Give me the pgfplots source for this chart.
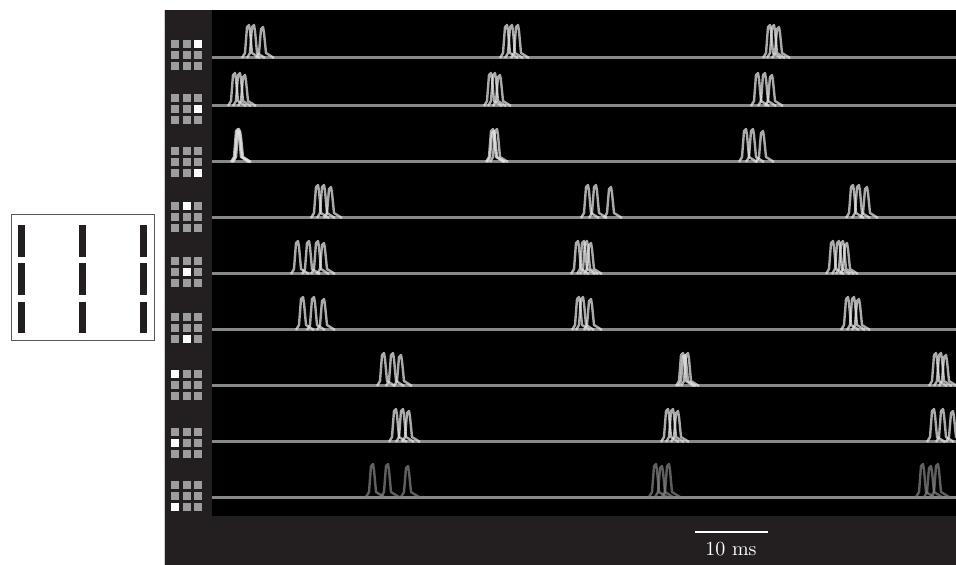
\documentclass[border=0pt]{standalone}
\usepackage{pgfplots}
\pgfplotsset{compat=1.18}
\definecolor{panel}{HTML}{231F20}
\definecolor{icongray}{HTML}{9D9D9D}
\definecolor{basegray}{HTML}{888888}
\definecolor{spkgray}{HTML}{E4E4E4}
\pgfplotsset{
  row/.style={y filter/.expression={#1-y}},
  spk/.style={color=spkgray, opacity=0.75, line width=1.2pt, line join=round, mark=none, unbounded coords=jump},
  dimspk/.style={color=gray, opacity=0.75, line width=1.2pt, line join=round, mark=none, unbounded coords=jump},
}
\begin{document}
\begin{tikzpicture}
\begin{axis}[
  width=478pt, height=282.5pt, scale only axis,
  xmin=0, xmax=956, ymin=0, ymax=565, y dir=reverse,
  hide axis, clip=true,
]
% backgrounds
\fill[white] (axis cs:0,0) rectangle (axis cs:956,565);
\fill[panel] (axis cs:164,10) rectangle (axis cs:956,565);
\draw[gray!40, line width=0.6pt] (axis cs:164.5,10) -- (axis cs:164.5,565);
\fill[black] (axis cs:212,10) rectangle (axis cs:956,516);

% stimulus box
\addplot[gray!70!black, line width=0.5pt, mark=none] coordinates {(11,215) (154,215) (154,341) (11,341) (11,215)};
\addplot[panel, line width=3.5pt, mark=none, unbounded coords=jump, line cap=butt] coordinates {
 (21.5,225) (21.5,257) (21.5,nan) (82.5,225) (82.5,257) (82.5,nan) (143.5,225) (143.5,257) (143.5,nan)
 (21.5,263) (21.5,295) (21.5,nan) (82.5,263) (82.5,295) (82.5,nan) (143.5,263) (143.5,295) (143.5,nan)
 (21.5,302) (21.5,333) (21.5,nan) (82.5,302) (82.5,333) (82.5,nan) (143.5,302) (143.5,333)};

% icons (3x3 grids)
\addplot[only marks, mark=square*, mark size=1.7pt, icongray] coordinates {
 (175,44)(187,44)(198,44)(175,55)(187,55)(198,55)(175,66)(187,66)(198,66)
 (175,98)(187,98)(198,98)(175,109)(187,109)(198,109)(175,120)(187,120)(198,120)
 (175,151)(187,151)(198,151)(175,162)(187,162)(198,162)(175,173)(187,173)(198,173)
 (175,206)(187,206)(198,206)(175,217)(187,217)(198,217)(175,228)(187,228)(198,228)
 (175,261)(187,261)(198,261)(175,272)(187,272)(198,272)(175,283)(187,283)(198,283)
 (175,317)(187,317)(198,317)(175,328)(187,328)(198,328)(175,339)(187,339)(198,339)
 (175,374)(187,374)(198,374)(175,385)(187,385)(198,385)(175,396)(187,396)(198,396)
 (175,432)(187,432)(198,432)(175,443)(187,443)(198,443)(175,454)(187,454)(198,454)
 (175,485)(187,485)(198,485)(175,496)(187,496)(198,496)(175,507)(187,507)(198,507)};
\addplot[only marks, mark=square*, mark size=1.7pt, white] coordinates {
 (198,44) (198,109) (198,173) (187,206) (187,272) (187,339) (175,374) (175,443) (175,507)};

% baselines
\addplot[basegray, line width=1.5pt, mark=none, unbounded coords=jump] coordinates {
 (212,58)(956,58)(956,nan) (212,106)(956,106)(956,nan) (212,162)(956,162)(956,nan)
 (212,218)(956,218)(956,nan) (212,274)(956,274)(956,nan) (212,330)(956,330)(956,nan)
 (212,386)(956,386)(956,nan) (212,442)(956,442)(956,nan) (212,497)(956,497)};

% row 1
\addplot[spk,row=58] coordinates {(242,0)(245,5)(247,31)(249,33)(250,27)(252,5)(260,0)(260,nan)(500,0)(503,5)(505,31)(507,33)(508,27)(510,5)(518,0)(518,nan)(763,0)(766,5)(768,31)(770,33)(771,27)(773,5)(781,0)};
\addplot[spk,row=58] coordinates {(247,0)(250,5)(252,31)(254,33)(255,27)(257,5)(265,0)(265,nan)(505,0)(508,5)(510,31)(512,33)(513,27)(515,5)(523,0)(523,nan)(767,0)(770,5)(772,31)(774,33)(775,27)(777,5)(785,0)};
\addplot[spk,row=58] coordinates {(256,0)(259,5)(261,29)(263,31)(264,25)(266,5)(274,0)(274,nan)(511,0)(514,5)(516,31)(518,33)(519,27)(521,5)(529,0)(529,nan)(772,0)(775,5)(777,29)(779,31)(780,25)(782,5)(790,0)};
% row 2
\addplot[spk,row=106] coordinates {(228,0)(231,5)(233,31)(235,33)(236,27)(238,5)(246,0)(246,nan)(484,0)(487,5)(489,31)(491,33)(492,27)(494,5)(502,0)(502,nan)(751,0)(754,5)(756,31)(758,33)(759,27)(761,5)(769,0)};
\addplot[spk,row=106] coordinates {(233,0)(236,5)(238,31)(240,33)(241,27)(243,5)(251,0)(251,nan)(488,0)(491,5)(493,31)(495,33)(496,27)(498,5)(506,0)(506,nan)(758,0)(761,5)(763,31)(765,33)(766,27)(768,5)(776,0)};
\addplot[spk,row=106] coordinates {(238,0)(241,5)(243,29)(245,31)(246,25)(248,5)(256,0)(256,nan)(493,0)(496,5)(498,29)(500,31)(501,25)(503,5)(511,0)(511,nan)(765,0)(768,5)(770,29)(772,31)(773,25)(775,5)(783,0)};
% row 3
\addplot[spk,row=162] coordinates {(231,0)(234,5)(236,31)(238,33)(239,27)(241,5)(249,0)(249,nan)(486,0)(489,5)(491,31)(493,33)(494,27)(496,5)(504,0)(504,nan)(739,0)(742,5)(744,31)(746,33)(747,27)(749,5)(757,0)};
\addplot[spk,row=162] coordinates {(232,0)(235,5)(237,31)(239,33)(240,27)(242,5)(250,0)(250,nan)(490,0)(493,5)(495,31)(497,33)(498,27)(500,5)(508,0)(508,nan)(746,0)(749,5)(751,31)(753,33)(754,27)(756,5)(764,0)};
\addplot[spk,row=162] coordinates {(233,0)(236,5)(238,29)(240,31)(241,25)(243,5)(251,0)(251,nan)(487,0)(490,5)(492,29)(494,31)(495,25)(497,5)(505,0)(505,nan)(756,0)(759,5)(761,29)(763,31)(764,25)(766,5)(774,0)};
% row 4
\addplot[spk,row=218] coordinates {(311,0)(314,5)(316,31)(318,33)(319,27)(321,5)(329,0)(329,nan)(581,0)(584,5)(586,31)(588,33)(589,27)(591,5)(599,0)(599,nan)(846,0)(849,5)(851,31)(853,33)(854,27)(856,5)(864,0)};
\addplot[spk,row=218] coordinates {(317,0)(320,5)(322,31)(324,33)(325,27)(327,5)(335,0)(335,nan)(589,0)(592,5)(594,31)(596,33)(597,27)(599,5)(607,0)(607,nan)(852,0)(855,5)(857,31)(859,33)(860,27)(862,5)(870,0)};
\addplot[spk,row=218] coordinates {(324,0)(327,5)(329,29)(331,31)(332,25)(334,5)(342,0)(342,nan)(604,0)(607,5)(609,29)(611,31)(612,25)(614,5)(622,0)(622,nan)(860,0)(863,5)(865,29)(867,31)(868,25)(870,5)(878,0)};
% row 5
\addplot[spk,row=274] coordinates {(291,0)(294,5)(296,31)(298,33)(299,27)(301,5)(309,0)(309,nan)(571,0)(574,5)(576,31)(578,33)(579,27)(581,5)(589,0)(589,nan)(826,0)(829,5)(831,31)(833,33)(834,27)(836,5)(844,0)};
\addplot[spk,row=274] coordinates {(302,0)(305,5)(307,31)(309,33)(310,27)(312,5)(320,0)(320,nan)(577,0)(580,5)(582,31)(584,33)(585,27)(587,5)(595,0)(595,nan)(832,0)(835,5)(837,31)(839,33)(840,27)(842,5)(850,0)};
\addplot[spk,row=274] coordinates {(311,0)(314,5)(316,31)(318,33)(319,27)(321,5)(329,0)(329,nan)(584,0)(587,5)(589,29)(591,31)(592,25)(594,5)(602,0)(602,nan)(840,0)(843,5)(845,29)(847,31)(848,25)(850,5)(858,0)};
\addplot[spk,row=274] coordinates {(317,0)(320,5)(322,29)(324,31)(325,25)(327,5)(335,0)(335,nan)(580,0)(583,5)(585,31)(587,33)(588,27)(590,5)(598,0)(598,nan)(836,0)(839,5)(841,31)(843,33)(844,27)(846,5)(854,0)};
% row 6
\addplot[spk,row=330] coordinates {(296,0)(299,5)(301,31)(303,33)(304,27)(306,5)(314,0)(314,nan)(572,0)(575,5)(577,31)(579,33)(580,27)(582,5)(590,0)(590,nan)(841,0)(844,5)(846,31)(848,33)(849,27)(851,5)(859,0)};
\addplot[spk,row=330] coordinates {(307,0)(310,5)(312,31)(314,33)(315,27)(317,5)(325,0)(325,nan)(576,0)(579,5)(581,31)(583,33)(584,27)(586,5)(594,0)(594,nan)(847,0)(850,5)(852,31)(854,33)(855,27)(857,5)(865,0)};
\addplot[spk,row=330] coordinates {(317,0)(320,5)(322,29)(324,31)(325,25)(327,5)(335,0)(335,nan)(584,0)(587,5)(589,29)(591,31)(592,25)(594,5)(602,0)(602,nan)(852,0)(855,5)(857,29)(859,31)(860,25)(862,5)(870,0)};
% row 7
\addplot[spk,row=386] coordinates {(377,0)(380,5)(382,31)(384,33)(385,27)(387,5)(395,0)(395,nan)(676,0)(679,5)(681,31)(683,33)(684,27)(686,5)(694,0)(694,nan)(929,0)(932,5)(934,31)(936,33)(937,27)(939,5)(947,0)};
\addplot[spk,row=386] coordinates {(386,0)(389,5)(391,31)(393,33)(394,27)(396,5)(404,0)(404,nan)(681,0)(684,5)(686,31)(688,33)(689,27)(691,5)(699,0)(699,nan)(934,0)(937,5)(939,31)(941,33)(942,27)(944,5)(952,0)};
\addplot[spk,row=386] coordinates {(394,0)(397,5)(399,29)(401,31)(402,25)(404,5)(412,0)(412,nan)(678,0)(681,5)(683,29)(685,31)(686,25)(688,5)(696,0)(696,nan)(939,0)(942,5)(944,29)(946,31)(947,25)(949,5)(957,0)};
% row 8
\addplot[spk,row=442] coordinates {(389,0)(392,5)(394,31)(396,33)(397,27)(399,5)(407,0)(407,nan)(661,0)(664,5)(666,31)(668,33)(669,27)(671,5)(679,0)(679,nan)(927,0)(930,5)(932,31)(934,33)(935,27)(937,5)(945,0)};
\addplot[spk,row=442] coordinates {(396,0)(399,5)(401,31)(403,33)(404,27)(406,5)(414,0)(414,nan)(666,0)(669,5)(671,31)(673,33)(674,27)(676,5)(684,0)(684,nan)(936,0)(939,5)(941,31)(943,33)(944,27)(946,5)(954,0)};
\addplot[spk,row=442] coordinates {(402,0)(405,5)(407,29)(409,31)(410,25)(412,5)(420,0)(420,nan)(671,0)(674,5)(676,29)(678,31)(679,25)(681,5)(689,0)(689,nan)(946,0)(949,5)(951,29)(953,31)(954,25)(956,5)(964,0)};
% row 9 (dim)
\addplot[dimspk,row=497] coordinates {(366,0)(369,5)(371,31)(373,33)(374,27)(376,5)(384,0)(384,nan)(649,0)(652,5)(654,31)(656,33)(657,27)(659,5)(667,0)(667,nan)(916,0)(919,5)(921,31)(923,33)(924,27)(926,5)(934,0)};
\addplot[dimspk,row=497] coordinates {(381,0)(384,5)(386,31)(388,33)(389,27)(391,5)(399,0)(399,nan)(662,0)(665,5)(667,31)(669,33)(670,27)(672,5)(680,0)(680,nan)(931,0)(934,5)(936,31)(938,33)(939,27)(941,5)(949,0)};
\addplot[dimspk,row=497] coordinates {(401,0)(404,5)(406,29)(408,31)(409,25)(411,5)(419,0)(419,nan)(655,0)(658,5)(660,29)(662,31)(663,25)(665,5)(673,0)(673,nan)(924,0)(927,5)(929,29)(931,31)(932,25)(934,5)(942,0)};

% scale bar
\addplot[white, line width=1.3pt, mark=none] coordinates {(695,532) (768,532)};
\node[white, font=\fontsize{10}{12}\selectfont] at (axis cs:731,549) {10 ms};
\end{axis}
\end{tikzpicture}
\end{document}
